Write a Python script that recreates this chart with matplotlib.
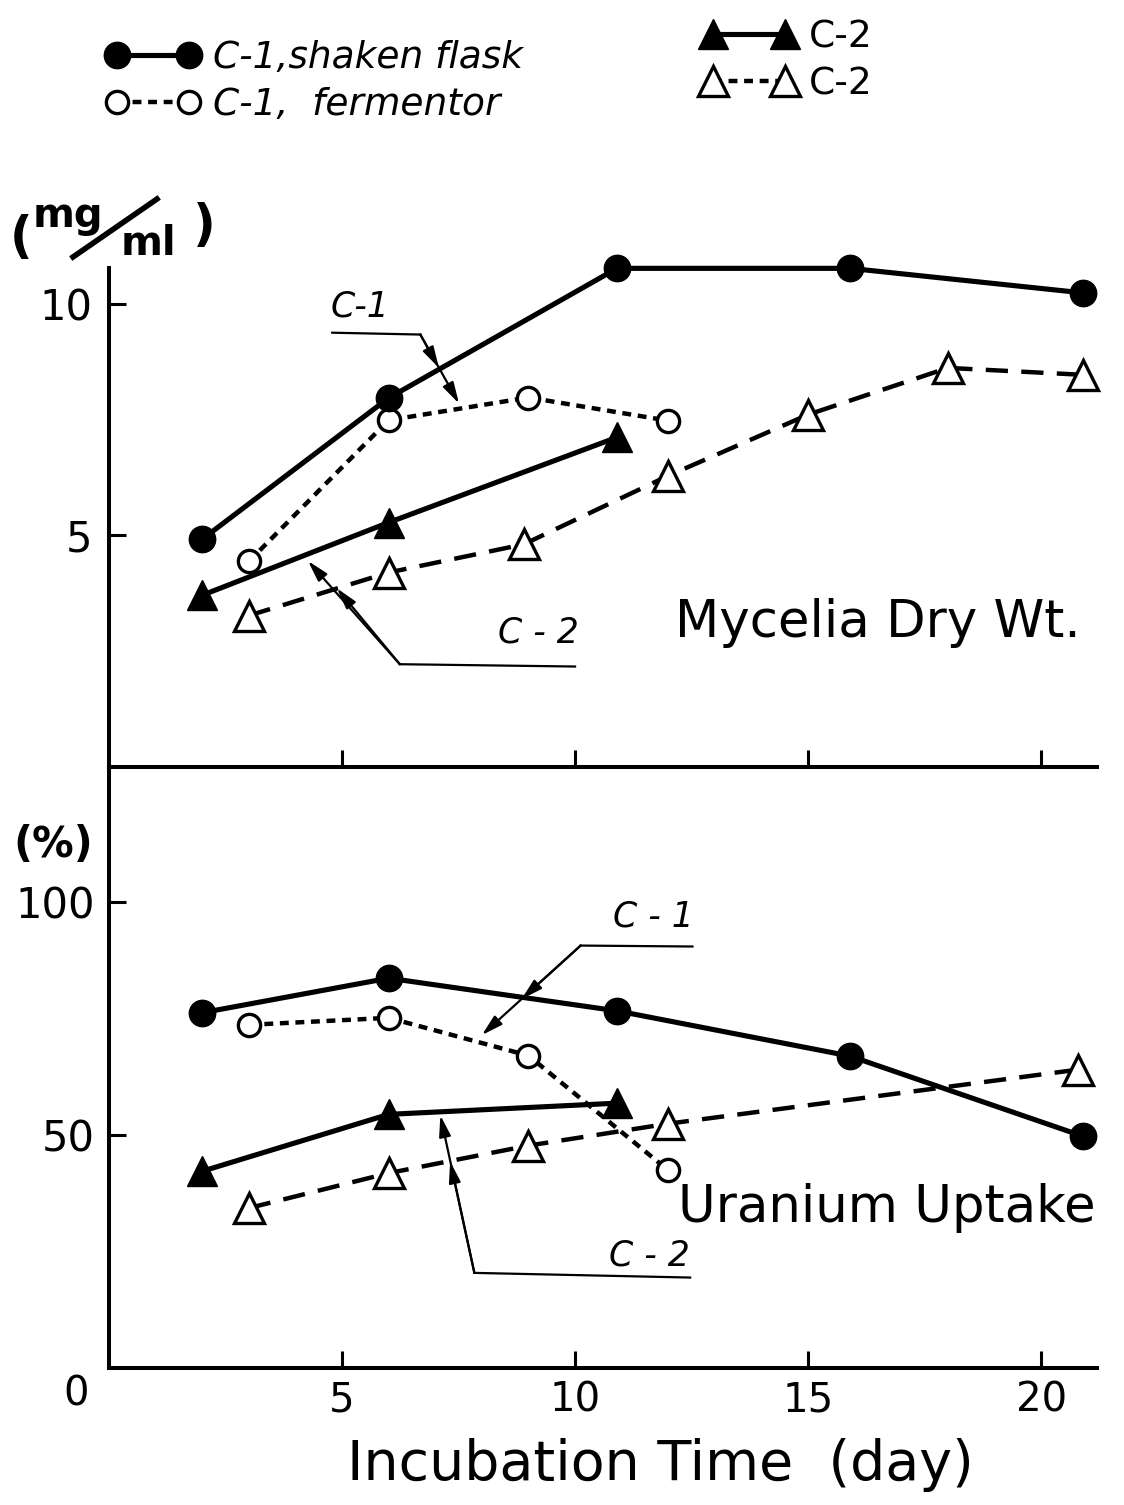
import matplotlib
matplotlib.use('Agg')
import matplotlib.pyplot as plt
from matplotlib.lines import Line2D

plt.rcParams['font.family'] = ['DejaVu Sans']

# incubation time (day) for each run
days_flask = [2, 6, 10.9, 15.9, 20.9]
days_ferm = [3, 6, 9, 12]
days_c2 = [2, 6, 10.9]
days_c2_ferm = [3, 6, 8.9, 12, 15, 18, 20.9]
days_c2_ferm_u = [3, 6, 9, 12, 20.8]

# mycelia dry weight (mg/ml)
dry_c1_flask = [4.92, 7.97, 10.77, 10.77, 10.24]
dry_c1_ferm = [4.44, 7.49, 7.98, 7.48]
dry_c2 = [3.71, 5.28, 7.12]
dry_c2_ferm = [3.27, 4.20, 4.81, 6.29, 7.61, 8.62, 8.47]

# uranium uptake (%)
upt_c1_flask = [76.2, 83.6, 76.6, 66.9, 49.7]
upt_c1_ferm = [73.6, 75.1, 67.0, 42.4]
upt_c2 = [42.2, 54.4, 56.8]
upt_c2_ferm = [34.3, 41.8, 47.7, 52.4, 64.0]

W, H = 1124, 1505


def fx(x):
    return x / W


def fy(y):
    return 1 - y / H


flask = dict(color='k', lw=3.7, ls='-', marker='o', ms=19, mfc='k', mec='k', clip_on=False)
ferm = dict(color='k', lw=3.2, ls=(0, (2, 1.5)), marker='o', ms=16, mfc='w', mec='k', mew=2.4, clip_on=False)
c2 = dict(color='k', lw=3.7, ls='-', marker='^', ms=22, mfc='k', mec='k', clip_on=False)
c2f = dict(color='k', lw=3.2, ls=(0, (5, 3)), marker='^', ms=22, mfc='w', mec='k', mew=2.4, clip_on=False)

fig = plt.figure(figsize=(W / 100, H / 100), dpi=100)

left, right = 109, 1097
ax1 = fig.add_axes([fx(left), fy(767), (right - left) / W, (767 - 160) / H])
ax2 = fig.add_axes([fx(left), fy(1368), (right - left) / W, (1368 - 767) / H])

for ax in (ax1, ax2):
    ax.patch.set_visible(False)
    ax.spines['top'].set_visible(False)
    ax.spines['right'].set_visible(False)
    ax.spines['left'].set_linewidth(2.9)
    ax.spines['bottom'].set_linewidth(2.9)
    ax.set_xlim(0, 21.2)
    ax.set_xticks([5, 10, 15, 20])
    ax.tick_params(direction='in', length=12, width=2.2, labelsize=30)

ax1.set_ylim(0, 13.11)
ax1.spines['left'].set_bounds(0, 10.78)
ax1.set_yticks([5, 10])
ax1.set_yticklabels(['5', '10'])
ax1.tick_params(axis='y', pad=12)
ax1.tick_params(axis='x', labelbottom=False)

ax2.set_ylim(0, 128.9)
ax2.set_yticks([50, 100])
ax2.set_yticklabels(['50', '100'])
ax2.tick_params(axis='y', pad=10)
ax2.tick_params(axis='x', pad=9, labelsize=29)
ax2.text(-0.7, -5.6, '0', fontsize=29, ha='center', va='center')

# mycelia dry weight
ax1.plot(days_flask, dry_c1_flask, zorder=4, **flask)
ax1.plot(days_ferm, dry_c1_ferm, zorder=3, **ferm)
ax1.plot(days_c2, dry_c2, zorder=4, **c2)
ax1.plot(days_c2_ferm, dry_c2_ferm, zorder=3, **c2f)

# uranium uptake
ax2.plot(days_flask, upt_c1_flask, zorder=4, **flask)
ax2.plot(days_ferm, upt_c1_ferm, zorder=3, **ferm)
ax2.plot(days_c2, upt_c2, zorder=4, **c2)
ax2.plot(days_c2_ferm_u, upt_c2_ferm, zorder=3, **c2f)


def pointer(ax, label, label_xy, start, bend, tips):
    ax.plot([start[0], bend[0]], [start[1], bend[1]], color='k', lw=1.6)
    for tip in tips:
        ax.annotate('', xy=tip, xytext=bend,
                    arrowprops=dict(arrowstyle='-|>,head_length=0.8,head_width=0.22',
                                    color='k', lw=1.6, mutation_scale=16,
                                    shrinkA=0, shrinkB=0))
    ax.text(label_xy[0], label_xy[1], label, fontsize=25, style='italic',
            ha='center', va='center')


pointer(ax1, 'C-1', (5.38, 9.95), (4.79, 9.38), (6.68, 9.34), [(7.08, 8.62), (7.51, 7.85)])
pointer(ax1, 'C - 2', (9.21, 2.9), (10.0, 2.17), (6.24, 2.22), [(4.89, 3.86), (4.27, 4.45)])
pointer(ax2, 'C - 1', (11.69, 96.8), (12.52, 90.4), (10.12, 90.6), [(8.85, 79.1), (8.0, 71.4)])
pointer(ax2, 'C - 2', (11.59, 24.2), (12.47, 19.4), (7.84, 20.4), [(7.32, 44.3), (7.11, 54.2)])

ax1.text(16.5, 3.1, 'Mycelia Dry Wt.', fontsize=37, ha='center', va='center')
ax2.text(16.7, 34.4, 'Uranium Uptake', fontsize=37, ha='center', va='center')

# axis units
fig.text(fx(21), fy(238), '(', fontsize=36, fontweight='bold', ha='center', va='center')
fig.text(fx(68), fy(216), 'mg', fontsize=29, fontweight='bold', ha='center', va='center')
fig.text(fx(148), fy(244), 'ml', fontsize=29, fontweight='bold', ha='center', va='center')
fig.text(fx(204), fy(226), ')', fontsize=36, fontweight='bold', ha='center', va='center')
fig.add_artist(Line2D([fx(73), fx(157)], [fy(257), fy(199)], color='k', lw=4))
fig.text(fx(53), fy(845), '(%)', fontsize=30, fontweight='bold', ha='center', va='center')

fig.text(fx(660), fy(1465), 'Incubation Time  (day)', fontsize=40, ha='center', va='center')

# legends
h_flask = Line2D([], [], color='k', lw=3.7, marker='o', ms=19)
h_ferm = Line2D([], [], color='k', lw=3.2, ls=(0, (2, 1.5)), marker='o', ms=16, mfc='w', mew=2.4)
h_c2 = Line2D([], [], color='k', lw=3.7, marker='^', ms=22)
h_c2f = Line2D([], [], color='k', lw=3.2, ls=(0, (2, 1.5)), marker='^', ms=22, mfc='w', mew=2.4)

leg_kw = dict(frameon=False, numpoints=2, handlelength=2.5, handletextpad=0.35,
              labelspacing=0.3, borderpad=0, borderaxespad=0)
leg1 = fig.legend([h_flask, h_ferm], ['C-1,shaken flask', 'C-1,  fermentor'],
                  loc='upper left', bbox_to_anchor=(fx(106), fy(40)),
                  prop={'style': 'italic', 'size': 27}, **leg_kw)
leg2 = fig.legend([h_c2, h_c2f], ['C-2', 'C-2'],
                  loc='upper left', bbox_to_anchor=(fx(702), fy(19)),
                  prop={'size': 27}, **leg_kw)

fig.savefig('out.png', dpi=100)
